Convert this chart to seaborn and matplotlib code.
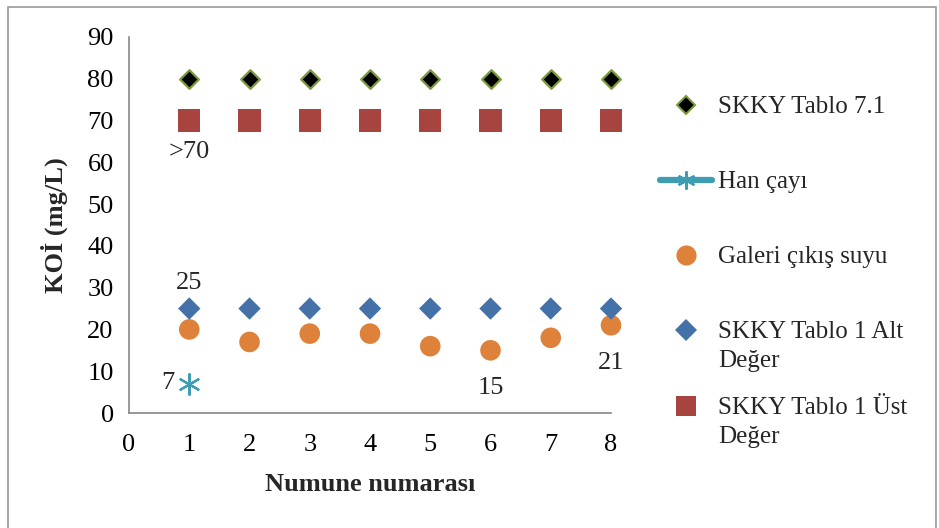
import matplotlib
matplotlib.use("Agg")
import matplotlib.pyplot as plt
import seaborn as sns
import pandas as pd
from matplotlib.patches import Rectangle
from matplotlib.lines import Line2D

sns.set_theme(style="white")
plt.rcParams["font.family"] = ["Liberation Serif", "DejaVu Serif"]

samples = [1, 2, 3, 4, 5, 6, 7, 8]
skky_71 = [80, 80, 80, 80, 80, 80, 80, 80]
han_cayi_x = [1]
han_cayi = [7]
galeri = [20, 17, 19, 19, 16, 15, 18, 21]
skky_alt = [25, 25, 25, 25, 25, 25, 25, 25]
skky_ust = [70, 70, 70, 70, 70, 70, 70, 70]
labels = ["SKKY Tablo 7.1", "Han çayı", "Galeri çıkış suyu",
          "SKKY Tablo 1 Alt\nDeğer", "SKKY Tablo 1 Üst\nDeğer"]

C71_FACE, C71_EDGE = "black", "#7A9A3C"
CHAN = "#3F9DB3"
CGAL = "#DE823B"
CALT = "#4471A8"
CUST = "#A8443F"

fig = plt.figure(figsize=(9.39, 5.28), dpi=100)
ax = fig.add_axes([0.1374, 0.2178, 0.5133, 0.7122])

d71 = pd.DataFrame({"x": samples, "y": skky_71})
dhan = pd.DataFrame({"x": han_cayi_x, "y": han_cayi})
dgal = pd.DataFrame({"x": samples, "y": galeri})
dalt = pd.DataFrame({"x": samples, "y": skky_alt})
dust = pd.DataFrame({"x": samples, "y": skky_ust})

kw = dict(ax=ax, legend=False, clip_on=False)
sns.scatterplot(data=d71, x="x", y="y", marker="D", s=90,
                color=C71_FACE, edgecolor=C71_EDGE, linewidth=1.6, zorder=3, **kw)
sns.scatterplot(data=dhan, x="x", y="y", marker=(6, 2, 0), s=220,
                color=CHAN, linewidth=1.6, zorder=3, **kw)
sns.scatterplot(data=dgal, x="x", y="y", marker="o", s=220,
                color=CGAL, edgecolor="none", zorder=3, **kw)
sns.scatterplot(data=dalt, x="x", y="y", marker="D", s=130,
                color=CALT, edgecolor="none", zorder=3, **kw)
sns.scatterplot(data=dust, x="x", y="y", marker="s", s=260,
                color=CUST, edgecolor="none", zorder=3, **kw)

ax.set_xlim(0, 8)
ax.set_ylim(0, 90)
ax.set_xticks(range(0, 9))
ax.set_yticks(range(0, 91, 10))
for side in ("top", "right"):
    ax.spines[side].set_visible(False)
for side in ("left", "bottom"):
    ax.spines[side].set_color("#888888")
    ax.spines[side].set_linewidth(1.2)
ax.tick_params(axis="both", direction="out", length=6, width=1.2, color="#888888",
               labelsize=19, labelcolor="black", pad=5)
ax.tick_params(axis="x", pad=9)
ax.set_xlabel("Numune numarası", fontsize=19, fontweight="bold", labelpad=12)
ax.set_ylabel("KOİ (mg/L)", fontsize=19, fontweight="bold", labelpad=14)

# value labels
fs = 19
ax.text(samples[0], skky_alt[0] + 6.0, f"{skky_alt[0]}", ha="center", va="center", fontsize=fs)
ax.text(samples[0], skky_ust[0] - 7.5, f">{skky_ust[0]}", ha="center", va="center", fontsize=fs)
ax.text(samples[0] - 0.35, han_cayi[0] + 0.3, f"{han_cayi[0]}", ha="center", va="center", fontsize=fs)
ax.text(samples[5], galeri[5] - 9.0, f"{galeri[5]}", ha="center", va="center", fontsize=fs)
ax.text(samples[7], galeri[7] - 9.0, f"{galeri[7]}", ha="center", va="center", fontsize=fs)

# legend drawn entry by entry on the figure
W, H = 939.0, 528.0
def fx(px):
    return px / W
def fy(py):
    return 1 - py / H

entry_y = [105, 180, 255, 330, 406]
line_step = 29
handle_x = 686
text_x = 718
handles = [
    dict(marker="D", color=C71_FACE, mec=C71_EDGE, mew=1.5, ms=9.5, line=False),
    dict(marker=(6, 2, 0), color=CHAN, mec=CHAN, mew=1.6, ms=13, line=True),
    dict(marker="o", color=CGAL, mec="none", mew=0, ms=14.5, line=False),
    dict(marker="D", color=CALT, mec="none", mew=0, ms=11, line=False),
    dict(marker="s", color=CUST, mec="none", mew=0, ms=14.5, line=False),
]
for yy, h, lab in zip(entry_y, handles, labels):
    if h["line"]:
        fig.add_artist(Line2D([fx(660), fx(712)], [fy(yy), fy(yy)], color=CHAN,
                              linewidth=4.5, solid_capstyle="round",
                              transform=fig.transFigure))
    fig.add_artist(Line2D([fx(handle_x)], [fy(yy)], marker=h["marker"], linestyle="none",
                          markerfacecolor=h["color"], markeredgecolor=h["mec"],
                          markeredgewidth=h["mew"], markersize=h["ms"],
                          transform=fig.transFigure))
    for i, part in enumerate(lab.split("\n")):
        fig.text(fx(text_x), fy(yy + 8 + i * line_step), part, ha="left",
                 va="baseline", fontsize=18)

fig.patches.append(Rectangle((0.009, -0.05), 0.988, 1.037, transform=fig.transFigure,
                             fill=False, edgecolor="#999999", linewidth=1.2))

fig.savefig("out.png", dpi=100)
